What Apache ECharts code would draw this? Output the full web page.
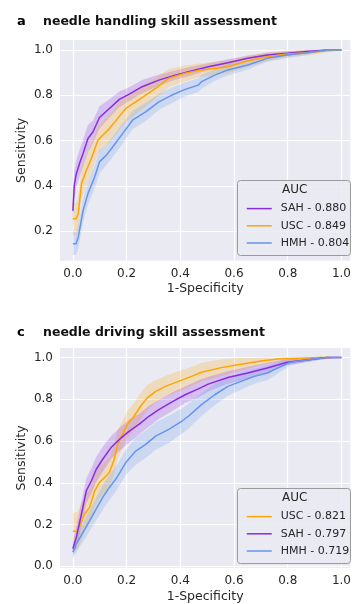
<!DOCTYPE html>
<html><head><meta charset="utf-8">
<script src="https://cdn.jsdelivr.net/npm/echarts@6/dist/echarts.min.js"></script>
<style>html,body{margin:0;padding:0;background:#fff}#c{width:354px;height:604px}</style>
</head><body><div id="c"></div>
<script>
// ---------- Panel a: needle handling ----------
const SAH_a_x = [0, 0.005, 0.012, 0.025, 0.038, 0.056, 0.075, 0.099, 0.136, 0.173, 0.21, 0.258, 0.32, 0.381, 0.43, 0.504, 0.577, 0.651, 0.724, 0.798, 0.871, 0.945, 1.0];
const SAH_a_y = [0.29, 0.40, 0.45, 0.50, 0.543, 0.609, 0.639, 0.702, 0.742, 0.782, 0.805, 0.838, 0.867, 0.889, 0.904, 0.926, 0.944, 0.963, 0.978, 0.985, 0.993, 1.0, 1.0];
const SAH_a_lo = [0.22, 0.33, 0.39, 0.44, 0.483, 0.549, 0.589, 0.652, 0.702, 0.747, 0.775, 0.808, 0.842, 0.869, 0.884, 0.911, 0.929, 0.951, 0.968, 0.975, 0.985, 0.995, 1.0];
const SAH_a_hi = [0.36, 0.47, 0.51, 0.56, 0.603, 0.669, 0.689, 0.752, 0.782, 0.817, 0.835, 0.868, 0.892, 0.909, 0.924, 0.941, 0.959, 0.975, 0.988, 0.995, 1.0, 1.0, 1.0];

const USC_a_x = [0, 0.012, 0.02, 0.032, 0.05, 0.069, 0.093, 0.111, 0.136, 0.167, 0.197, 0.234, 0.271, 0.308, 0.357, 0.418, 0.467, 0.504, 0.577, 0.651, 0.724, 0.798, 0.871, 0.945, 1.0];
const USC_a_y = [0.255, 0.255, 0.277, 0.41, 0.469, 0.521, 0.602, 0.624, 0.653, 0.698, 0.742, 0.771, 0.801, 0.83, 0.875, 0.897, 0.91, 0.915, 0.926, 0.951, 0.970, 0.982, 0.988, 0.997, 1.0];
const USC_a_lo = [0.185, 0.185, 0.207, 0.34, 0.399, 0.456, 0.542, 0.564, 0.593, 0.638, 0.682, 0.716, 0.751, 0.785, 0.835, 0.862, 0.88, 0.885, 0.898, 0.926, 0.95, 0.967, 0.976, 0.989, 1.0];
const USC_a_hi = [0.325, 0.325, 0.347, 0.48, 0.539, 0.586, 0.662, 0.684, 0.713, 0.758, 0.802, 0.826, 0.851, 0.875, 0.915, 0.932, 0.94, 0.945, 0.954, 0.976, 0.99, 0.997, 1.0, 1.0, 1.0];

const HMH_a_x = [0, 0.012, 0.02, 0.038, 0.056, 0.081, 0.099, 0.124, 0.148, 0.185, 0.222, 0.271, 0.32, 0.369, 0.418, 0.467, 0.479, 0.528, 0.577, 0.651, 0.724, 0.798, 0.871, 0.945, 1.0];
const HMH_a_y = [0.145, 0.145, 0.174, 0.292, 0.366, 0.439, 0.506, 0.535, 0.572, 0.631, 0.69, 0.727, 0.771, 0.801, 0.826, 0.845, 0.86, 0.889, 0.912, 0.934, 0.963, 0.978, 0.988, 1.0, 1.0];
const HMH_a_lo = [0.095, 0.095, 0.124, 0.242, 0.316, 0.389, 0.456, 0.49, 0.527, 0.586, 0.65, 0.687, 0.736, 0.766, 0.796, 0.815, 0.83, 0.864, 0.887, 0.914, 0.948, 0.966, 0.978, 0.995, 1.0];
const HMH_a_hi = [0.195, 0.195, 0.224, 0.342, 0.416, 0.489, 0.556, 0.58, 0.617, 0.676, 0.73, 0.767, 0.806, 0.836, 0.856, 0.875, 0.89, 0.914, 0.937, 0.954, 0.978, 0.99, 0.998, 1.0, 1.0];

// ---------- Panel c: needle driving ----------
const USC_c_x = [0, 0.015, 0.026, 0.044, 0.0625, 0.081, 0.099, 0.118, 0.136, 0.154, 0.167, 0.185, 0.203, 0.228, 0.252, 0.277, 0.308, 0.344, 0.393, 0.442, 0.479, 0.553, 0.626, 0.70, 0.773, 0.847, 0.92, 0.96];
const USC_c_y = [0.168, 0.168, 0.195, 0.251, 0.283, 0.362, 0.402, 0.426, 0.45, 0.513, 0.584, 0.632, 0.68, 0.719, 0.767, 0.807, 0.838, 0.862, 0.886, 0.91, 0.93, 0.952, 0.968, 0.984, 0.994, 0.997, 1.0, 1.0];
const USC_c_lo = [0.078, 0.078, 0.105, 0.166, 0.203, 0.282, 0.327, 0.351, 0.38, 0.443, 0.514, 0.567, 0.615, 0.654, 0.702, 0.747, 0.783, 0.812, 0.836, 0.865, 0.885, 0.912, 0.938, 0.964, 0.982, 0.989, 0.995, 0.995];
const USC_c_hi = [0.258, 0.258, 0.285, 0.336, 0.363, 0.442, 0.477, 0.501, 0.52, 0.583, 0.654, 0.697, 0.745, 0.784, 0.832, 0.867, 0.893, 0.912, 0.936, 0.955, 0.975, 0.992, 0.998, 1.0, 1.0, 1.0, 1.0, 1.0];

const SAH_c_x = [0, 0.013, 0.032, 0.05, 0.069, 0.087, 0.111, 0.142, 0.173, 0.21, 0.246, 0.283, 0.32, 0.369, 0.418, 0.467, 0.504, 0.577, 0.651, 0.724, 0.798, 0.871, 0.945, 1.0];
const SAH_c_y = [0.084, 0.14, 0.251, 0.362, 0.41, 0.465, 0.513, 0.569, 0.608, 0.648, 0.68, 0.719, 0.751, 0.788, 0.822, 0.85, 0.873, 0.905, 0.926, 0.95, 0.978, 0.989, 1.0, 1.0];
const SAH_c_lo = [0.054, 0.09, 0.191, 0.302, 0.35, 0.405, 0.453, 0.514, 0.553, 0.593, 0.63, 0.669, 0.706, 0.743, 0.782, 0.81, 0.838, 0.875, 0.896, 0.925, 0.963, 0.979, 0.995, 1.0];
const SAH_c_hi = [0.114, 0.19, 0.311, 0.422, 0.47, 0.525, 0.573, 0.624, 0.663, 0.703, 0.73, 0.769, 0.796, 0.833, 0.862, 0.89, 0.908, 0.935, 0.956, 0.975, 0.993, 0.999, 1.0, 1.0];

const HMH_c_x = [0, 0.013, 0.038, 0.0625, 0.087, 0.111, 0.136, 0.16, 0.197, 0.234, 0.271, 0.308, 0.357, 0.405, 0.43, 0.479, 0.528, 0.577, 0.626, 0.675, 0.724, 0.773, 0.81, 0.871, 0.945, 1.0];
const HMH_c_y = [0.068, 0.108, 0.164, 0.219, 0.275, 0.33, 0.378, 0.418, 0.497, 0.552, 0.584, 0.624, 0.656, 0.695, 0.719, 0.775, 0.822, 0.862, 0.886, 0.91, 0.926, 0.957, 0.978, 0.989, 1.0, 1.0];
const HMH_c_lo = [0.038, 0.068, 0.119, 0.169, 0.22, 0.27, 0.318, 0.358, 0.437, 0.487, 0.519, 0.559, 0.591, 0.635, 0.659, 0.72, 0.772, 0.817, 0.846, 0.875, 0.891, 0.932, 0.963, 0.979, 0.995, 1.0];
const HMH_c_hi = [0.098, 0.148, 0.209, 0.269, 0.33, 0.39, 0.438, 0.478, 0.557, 0.617, 0.649, 0.689, 0.721, 0.755, 0.779, 0.83, 0.872, 0.907, 0.926, 0.945, 0.961, 0.982, 0.993, 0.999, 1.0, 1.0];

// legend labels and ticks
const legendA = ['SAH - 0.880', 'USC - 0.849', 'HMH - 0.804'];
const legendC = ['USC - 0.821', 'SAH - 0.797', 'HMH - 0.719'];
const xTicks = [0, 0.2, 0.4, 0.6, 0.8, 1.0];
const yTicksA = [0.2, 0.4, 0.6, 0.8, 1.0];
const yTicksC = [0, 0.2, 0.4, 0.6, 0.8, 1.0];

const C_SAH = '#8a2be2', C_USC = '#ffa500', C_HMH = '#6495ed';
const FONT = 'DejaVu Sans';
const TXT = '#262626';

function rgba(hex, a) {
  const n = parseInt(hex.slice(1), 16);
  return 'rgba(' + (n >> 16) + ',' + ((n >> 8) & 255) + ',' + (n & 255) + ',' + a + ')';
}
function band(xs, lo, hi, color, idx) {
  return {
    type: 'custom', xAxisIndex: idx, yAxisIndex: idx, silent: true, z: 1,
    data: [[xs[0], lo[0]]],
    renderItem: function (params, api) {
      const pts = [];
      for (let i = 0; i < xs.length; i++) pts.push(api.coord([xs[i], hi[i]]));
      for (let i = xs.length - 1; i >= 0; i--) pts.push(api.coord([xs[i], lo[i]]));
      return { type: 'polygon', shape: { points: pts }, style: { fill: rgba(color, 0.22) } };
    }
  };
}
function line(name, xs, ys, color, idx) {
  return {
    type: 'line', name: name, xAxisIndex: idx, yAxisIndex: idx, z: 3,
    symbol: 'none', data: xs.map((x, i) => [x, ys[i]]),
    lineStyle: { color: color, width: 1.5 }, itemStyle: { color: color }
  };
}
function xAxis(idx) {
  return {
    type: 'value', gridIndex: idx, min: -0.048, max: 1.033,
    name: '1-Specificity', nameLocation: 'middle', nameGap: 22,
    nameTextStyle: { fontFamily: FONT, fontSize: 12.5, color: TXT },
    axisLine: { show: false },
    axisTick: { show: false, customValues: xTicks },
    axisLabel: { customValues: xTicks, margin: 7, fontFamily: FONT, fontSize: 12, color: TXT, formatter: v => v.toFixed(1) },
    splitLine: { show: true, lineStyle: { color: '#ffffff', width: 1.2 } }
  };
}
function yAxis(idx, min, max, ticks) {
  return {
    type: 'value', gridIndex: idx, min: min, max: max,
    name: 'Sensitivity', nameLocation: 'middle', nameGap: 32, nameRotate: 90, nameMoveOverlap: false,
    nameTextStyle: { fontFamily: FONT, fontSize: 12.5, color: TXT },
    axisLine: { show: false },
    axisTick: { show: false, customValues: ticks },
    axisLabel: { customValues: ticks, margin: 7, fontFamily: FONT, fontSize: 12, color: TXT, formatter: v => v.toFixed(1) },
    splitLine: { show: true, lineStyle: { color: '#ffffff', width: 1.2 } }
  };
}
function legendBox(top, h) {
  return [
    { type: 'rect', left: 237, top: top, z: 10, shape: { width: 113, height: h, r: 3 },
      style: { fill: 'rgba(234,234,242,0.85)', stroke: '#9a9a9a', lineWidth: 1 } },
    { type: 'text', left: 282, top: top + 4, z: 11,
      style: { text: 'AUC', fontFamily: FONT, fontSize: 12, fill: TXT } }
  ];
}
function legend(data, top) {
  return {
    data: data, orient: 'vertical', left: 241, top: top, itemWidth: 25, itemHeight: 14, itemGap: 6,
    z: 12, selectedMode: false,
    itemStyle: { opacity: 0, borderWidth: 0 },
    lineStyle: { width: 1.5 },
    textStyle: { fontFamily: FONT, fontSize: 11, color: TXT, padding: [0, 0, 0, 4] }
  };
}

const chart = echarts.init(document.getElementById('c'), null, { renderer: 'canvas' });
chart.setOption({
  animation: false,
  backgroundColor: '#ffffff',
  title: [
    { text: 'a', left: 12, top: 10, textStyle: { fontFamily: FONT, fontSize: 13, fontWeight: 'bold', color: '#000' } },
    { text: 'needle handling skill assessment', left: 38, top: 10, textStyle: { fontFamily: FONT, fontSize: 12.5, fontWeight: 'bold', color: '#111' } },
    { text: 'c', left: 12, top: 321, textStyle: { fontFamily: FONT, fontSize: 13, fontWeight: 'bold', color: '#000' } },
    { text: 'needle driving skill assessment', left: 38, top: 321, textStyle: { fontFamily: FONT, fontSize: 12.5, fontWeight: 'bold', color: '#111' } }
  ],
  grid: [
    { left: 60, top: 40, width: 294, height: 220.7, show: true, backgroundColor: '#eaeaf2', borderWidth: 0 },
    { left: 60, top: 348, width: 294, height: 221, show: true, backgroundColor: '#eaeaf2', borderWidth: 0 }
  ],
  xAxis: [xAxis(0), xAxis(1)],
  yAxis: [yAxis(0, 0.07, 1.044, yTicksA), yAxis(1, -0.008, 1.046, yTicksC)],
  legend: [legend(legendA, 198), legend(legendC, 506)],
  graphic: legendBox(180, 75).concat(legendBox(488, 75)),
  series: [
    band(SAH_a_x, SAH_a_lo, SAH_a_hi, C_SAH, 0),
    band(USC_a_x, USC_a_lo, USC_a_hi, C_USC, 0),
    band(HMH_a_x, HMH_a_lo, HMH_a_hi, C_HMH, 0),
    line(legendA[0], SAH_a_x, SAH_a_y, C_SAH, 0),
    line(legendA[1], USC_a_x, USC_a_y, C_USC, 0),
    line(legendA[2], HMH_a_x, HMH_a_y, C_HMH, 0),
    band(USC_c_x, USC_c_lo, USC_c_hi, C_USC, 1),
    band(SAH_c_x, SAH_c_lo, SAH_c_hi, C_SAH, 1),
    band(HMH_c_x, HMH_c_lo, HMH_c_hi, C_HMH, 1),
    line(legendC[0], USC_c_x, USC_c_y, C_USC, 1),
    line(legendC[1], SAH_c_x, SAH_c_y, C_SAH, 1),
    line(legendC[2], HMH_c_x, HMH_c_y, C_HMH, 1)
  ]
});
</script>
</body></html>
